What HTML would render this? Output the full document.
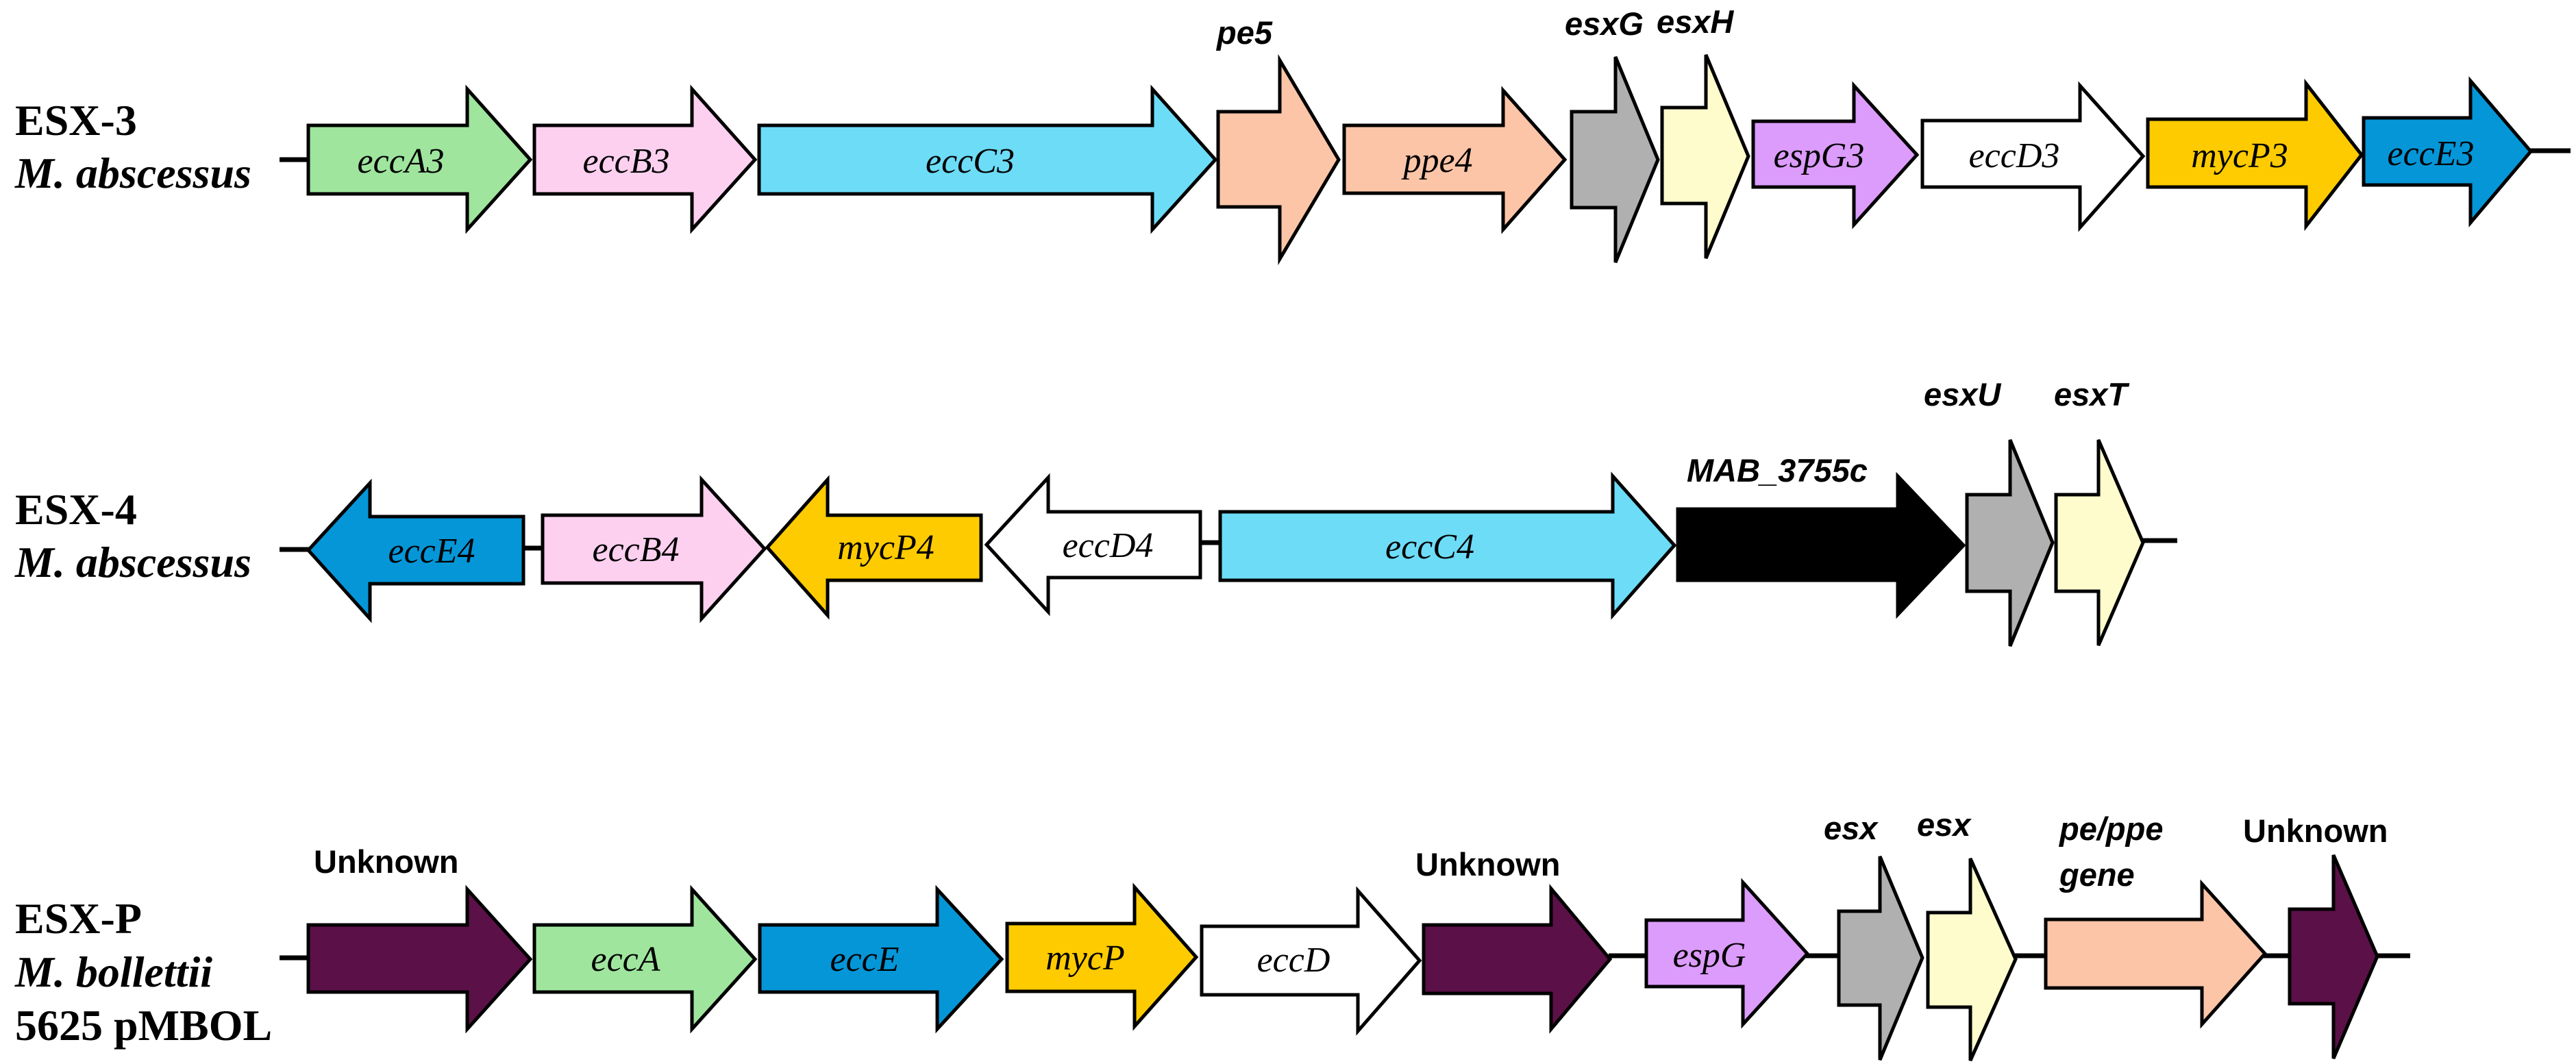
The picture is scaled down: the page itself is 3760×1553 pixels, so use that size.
<!DOCTYPE html>
<html><head><meta charset="utf-8"><style>
html,body{margin:0;padding:0;background:#fff;}
svg{display:block;}
.g{font-family:"Liberation Serif",serif;font-style:italic;font-size:52px;text-anchor:middle;fill:#000;}
.s{font-family:"Liberation Sans",sans-serif;font-weight:bold;font-size:47px;fill:#000;}
.si{font-family:"Liberation Sans",sans-serif;font-weight:bold;font-style:italic;font-size:47px;fill:#000;}
.h{font-family:"Liberation Serif",serif;font-weight:bold;font-size:64px;fill:#000;}
.hi{font-family:"Liberation Serif",serif;font-weight:bold;font-style:italic;font-size:64px;fill:#000;}
polygon{stroke:#000;stroke-width:5;stroke-linejoin:miter;}
line{stroke:#000;stroke-width:7;}
</style></head><body>
<svg width="3760" height="1553" viewBox="0 0 3760 1553" xmlns="http://www.w3.org/2000/svg">
<line x1="408" y1="233" x2="452" y2="233"/>
<line x1="3692" y1="220" x2="3752" y2="220"/>
<polygon fill="#9fe59e" points="450,183 682,183 682,130 774,233 682,335 682,283 450,283"/>
<polygon fill="#fdd0f0" points="780,183 1010,183 1010,130 1102,233 1010,335 1010,283 780,283"/>
<polygon fill="#6ddcf7" points="1108,183 1682,183 1682,130 1774,233 1682,335 1682,283 1108,283"/>
<polygon fill="#fdc5a8" points="1778,163 1868,163 1868,88 1954,233 1868,378 1868,302 1778,302"/>
<polygon fill="#fdc5a8" points="1962,183 2194,183 2194,132 2284,233 2194,335 2194,282 1962,282"/>
<polygon fill="#b0b0b0" points="2294,163 2358,163 2358,83 2420,233 2358,383 2358,303 2294,303"/>
<polygon fill="#fefccc" points="2426,157 2490,157 2490,80 2552,228 2490,377 2490,297 2426,297"/>
<polygon fill="#dc9cfb" points="2559,177 2706,177 2706,125 2798,226 2706,328 2706,273 2559,273"/>
<polygon fill="#ffffff" points="2806,176 3036,176 3036,125 3128,228 3036,332 3036,273 2806,273"/>
<polygon fill="#fdcb00" points="3135,174 3366,174 3366,122 3447,226 3366,330 3366,273 3135,273"/>
<polygon fill="#0596d8" points="3450,172 3606,172 3606,118 3694,221 3606,325 3606,270 3450,270"/>
<text class="g" x="585" y="252">eccA3</text>
<text class="g" x="914" y="252">eccB3</text>
<text class="g" x="1416" y="252">eccC3</text>
<text class="g" x="2099" y="251">ppe4</text>
<text class="g" x="2655" y="244">espG3</text>
<text class="g" x="2940" y="244">eccD3</text>
<text class="g" x="3269" y="244">mycP3</text>
<text class="g" x="3548" y="241">eccE3</text>
<text class="si" x="1776" y="64">pe5</text>
<text class="si" x="2284" y="51">esxG</text>
<text class="si" x="2418" y="48">esxH</text>
<text class="h" x="22" y="197">ESX-3</text>
<text class="hi" x="22" y="274">M. abscessus</text>

<line x1="408" y1="802" x2="452" y2="802"/>
<line x1="762" y1="800" x2="794" y2="800"/>
<line x1="1750" y1="792" x2="1783" y2="792"/>
<line x1="3126" y1="789" x2="3178" y2="789"/>
<polygon fill="#0596d8" points="764,754 540,754 540,705 450,803 540,903 540,852 764,852"/>
<polygon fill="#fdd0f0" points="792,752 1024,752 1024,700 1116,801 1024,903 1024,851 792,851"/>
<polygon fill="#fdcb00" points="1432,752 1208,752 1208,700 1120,799 1208,898 1208,847 1432,847"/>
<polygon fill="#ffffff" points="1752,747 1530,747 1530,697 1440,795 1530,893 1530,843 1752,843"/>
<polygon fill="#6ddcf7" points="1781,747 2354,747 2354,695 2444,796 2354,898 2354,847 1781,847"/>
<polygon fill="#000000" points="2449,743 2770,743 2770,695 2866,796 2770,897 2770,847 2449,847"/>
<polygon fill="#b0b0b0" points="2871,722 2934,722 2934,642 2996,792 2934,943 2934,863 2871,863"/>
<polygon fill="#fefccc" points="3001,722 3063,722 3063,642 3128,792 3063,942 3063,863 3001,863"/>
<text class="g" x="630" y="821">eccE4</text>
<text class="g" x="928" y="819">eccB4</text>
<text class="g" x="1293" y="816">mycP4</text>
<text class="g" x="1617" y="813">eccD4</text>
<text class="g" x="2087" y="815">eccC4</text>
<text class="si" x="2462" y="703">MAB_3755c</text>
<text class="si" x="2808" y="592">esxU</text>
<text class="si" x="2998" y="592">esxT</text>
<text class="h" x="22" y="765">ESX-4</text>
<text class="hi" x="22" y="842">M. abscessus</text>

<line x1="408" y1="1398" x2="452" y2="1398"/>
<line x1="2348" y1="1395" x2="2405" y2="1395"/>
<line x1="2636" y1="1395" x2="2686" y2="1395"/>
<line x1="2940" y1="1395" x2="2988" y2="1395"/>
<line x1="3304" y1="1395" x2="3344" y2="1395"/>
<line x1="3468" y1="1395" x2="3518" y2="1395"/>
<polygon fill="#5c1048" points="450,1350 682,1350 682,1298 774,1400 682,1502 682,1448 450,1448"/>
<polygon fill="#9fe59e" points="780,1350 1010,1350 1010,1298 1102,1400 1010,1502 1010,1448 780,1448"/>
<polygon fill="#0596d8" points="1109,1350 1368,1350 1368,1298 1462,1400 1368,1502 1368,1448 1109,1448"/>
<polygon fill="#fdcb00" points="1470,1348 1656,1348 1656,1295 1746,1397 1656,1498 1656,1447 1470,1447"/>
<polygon fill="#ffffff" points="1754,1352 1982,1352 1982,1300 2072,1402 1982,1505 1982,1452 1754,1452"/>
<polygon fill="#5c1048" points="2078,1350 2264,1350 2264,1297 2350,1400 2264,1502 2264,1450 2078,1450"/>
<polygon fill="#dc9cfb" points="2403,1343 2544,1343 2544,1288 2638,1392 2544,1495 2544,1440 2403,1440"/>
<polygon fill="#b0b0b0" points="2684,1330 2744,1330 2744,1250 2806,1398 2744,1547 2744,1467 2684,1467"/>
<polygon fill="#fefccc" points="2814,1332 2876,1332 2876,1253 2942,1400 2876,1548 2876,1470 2814,1470"/>
<polygon fill="#fdc5a8" points="2986,1342 3214,1342 3214,1290 3306,1392 3214,1495 3214,1442 2986,1442"/>
<polygon fill="#5c1048" points="3342,1327 3406,1327 3406,1248 3470,1396 3406,1545 3406,1465 3342,1465"/>
<text class="g" x="913" y="1417">eccA</text>
<text class="g" x="1262" y="1417">eccE</text>
<text class="g" x="1584" y="1415">mycP</text>
<text class="g" x="1888" y="1418">eccD</text>
<text class="g" x="2495" y="1411">espG</text>
<text class="s" x="458" y="1274">Unknown</text>
<text class="s" x="2066" y="1278">Unknown</text>
<text class="s" x="3274" y="1229">Unknown</text>
<text class="si" x="2662" y="1225">esx</text>
<text class="si" x="2798" y="1220">esx</text>
<text class="si" x="3006" y="1226">pe/ppe</text>
<text class="si" x="3006" y="1293">gene</text>
<text class="h" x="22" y="1362">ESX-P</text>
<text class="hi" x="22" y="1440">M. bollettii</text>
<text class="h" x="22" y="1518">5625 pMBOL</text>
</svg>
</body></html>
